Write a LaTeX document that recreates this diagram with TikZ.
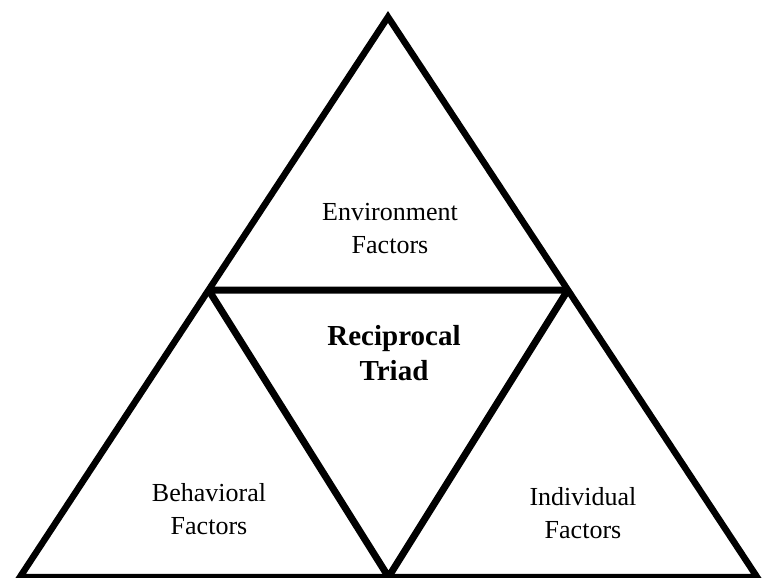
\documentclass[tikz,border=0pt]{standalone}
\usepackage{fontspec}
\setmainfont{Liberation Serif}
\usetikzlibrary{calc}
\begin{document}
\begin{tikzpicture}[x=1pt,y=-1pt,
  edge/.style={line width=6.5pt,line join=miter,miter limit=10},
  inner edge/.style={line width=7pt,line join=bevel},
  label/.style={align=center,font=\fontsize{26}{33}\selectfont,inner sep=0pt}]
  \fill[white] (0,0) rectangle (764,578);
  \useasboundingbox (0,0) rectangle (764,578);
  % outer triangle corners
  \coordinate (A) at (388,17);
  \coordinate (BL) at (20,577);
  \coordinate (BR) at (757,577);
  % corners of the central triangle, on the outer edges
  \coordinate (L) at ($(A)!0.4875!(BL)$);
  \coordinate (R) at ($(A)!0.4875!(BR)$);
  \coordinate (B) at ($(BL)!0.5!(BR)$);
  \draw[edge] (A) -- (BL) -- (BR) -- cycle;
  \draw[inner edge] (L) -- (R) -- (B) -- cycle;
  % labels
  \node[label] (env) at (390,229) {Environment\\Factors};
  \node[label,font=\fontsize{29}{35}\selectfont\bfseries] (tri) at (394,353) {Reciprocal\\Triad};
  \node[label] (beh) at (209,509) {Behavioral\\Factors};
  \node[label] (ind) at (583,513) {Individual\\Factors};
\end{tikzpicture}
\end{document}
